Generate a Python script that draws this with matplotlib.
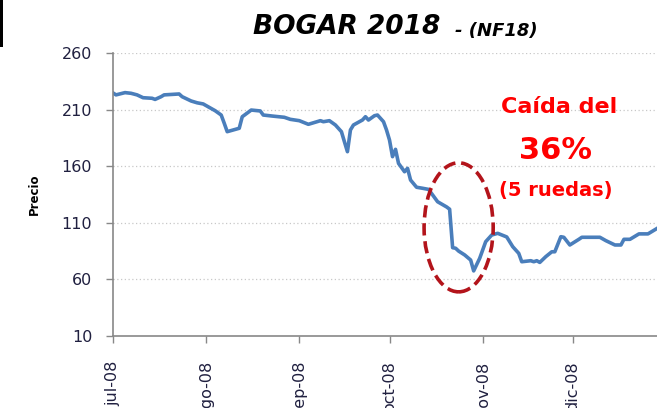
import matplotlib
matplotlib.use("Agg")
import matplotlib.pyplot as plt
import matplotlib.dates as mdates
from matplotlib.patches import Ellipse, Rectangle
import pandas as pd

# precio diario (aprox.) del bono
fechas = [
    "2008-07-01", "2008-07-02", "2008-07-05", "2008-07-07", "2008-07-09", "2008-07-11",
    "2008-07-14", "2008-07-15", "2008-07-17", "2008-07-18", "2008-07-23", "2008-07-24",
    "2008-07-27", "2008-07-29", "2008-07-31",
    "2008-08-02", "2008-08-04", "2008-08-06", "2008-08-07", "2008-08-08", "2008-08-10",
    "2008-08-12", "2008-08-13", "2008-08-16", "2008-08-19", "2008-08-20", "2008-08-23",
    "2008-08-27", "2008-08-29",
    "2008-09-01", "2008-09-04", "2008-09-08", "2008-09-09", "2008-09-11", "2008-09-13",
    "2008-09-15", "2008-09-16", "2008-09-17", "2008-09-18", "2008-09-19", "2008-09-22",
    "2008-09-23", "2008-09-24", "2008-09-26", "2008-09-27", "2008-09-29", "2008-09-30",
    "2008-10-01", "2008-10-02", "2008-10-03", "2008-10-04", "2008-10-06", "2008-10-07",
    "2008-10-08", "2008-10-10", "2008-10-12", "2008-10-14", "2008-10-17", "2008-10-20",
    "2008-10-21", "2008-10-22", "2008-10-23", "2008-10-24", "2008-10-26", "2008-10-28",
    "2008-10-29", "2008-10-31",
    "2008-11-02", "2008-11-04", "2008-11-06", "2008-11-09", "2008-11-11", "2008-11-13",
    "2008-11-14", "2008-11-17", "2008-11-18", "2008-11-19", "2008-11-20", "2008-11-22",
    "2008-11-24", "2008-11-25", "2008-11-27", "2008-11-28", "2008-11-30",
    "2008-12-03", "2008-12-04", "2008-12-10", "2008-12-12", "2008-12-15", "2008-12-17",
    "2008-12-18", "2008-12-20", "2008-12-23", "2008-12-26", "2008-12-29",
]
precios = [
    224.7, 223.0, 225.0, 224.4, 223.0, 220.5,
    220.0, 219.0, 221.4, 223.0, 223.8, 221.4,
    217.6, 216.0, 215.0,
    212.0, 209.0, 205.2, 198.0, 190.5, 192.0,
    193.5, 203.7, 209.6, 208.8, 205.2, 204.3,
    203.2, 201.4,
    200.2, 197.0, 200.2, 199.3, 200.2, 196.4,
    190.5, 181.6, 172.8, 192.0, 196.4, 200.8,
    203.7, 200.8, 204.6, 205.2, 199.3, 192.0,
    183.1, 168.4, 174.9, 162.5, 155.1, 158.1,
    147.8, 141.4, 140.5, 139.5, 128.6, 124.0,
    122.0, 88.0, 87.5, 85.0, 81.6, 77.1,
    67.5, 78.6,
    93.3, 99.2, 100.7, 97.5, 88.9, 83.0,
    75.6, 76.5, 75.6, 76.5, 75.0, 80.1,
    84.4, 84.4, 97.7, 97.2, 90.4,
    95.4, 97.2, 97.2, 94.2, 90.4, 90.4,
    95.4, 95.4, 100.2, 100.2, 105.0,
]

meses = ["2008-07-01", "2008-08-01", "2008-09-01", "2008-10-01", "2008-11-01", "2008-12-01"]
etiquetas_meses = ["jul-08", "ago-08", "sep-08", "oct-08", "nov-08", "dic-08"]
yticks = [10, 60, 110, 160, 210, 260]

fechas = pd.to_datetime(fechas)
meses = pd.to_datetime(meses)

fig = plt.figure(figsize=(6.57, 4.08), dpi=100)
ax = fig.add_axes([0.172, 0.1765, 0.828, 0.6936])

ax.plot(fechas, precios, color="#4a7ebb", lw=2.6, solid_joinstyle="round")

ax.set_ylim(10, 260)
ax.set_xlim(pd.Timestamp("2008-07-01"), pd.Timestamp("2008-12-29"))
ax.set_yticks(yticks)
ax.set_xticks(meses)
ax.set_xticklabels(etiquetas_meses, rotation=90, va="top", ha="center")

for v in yticks[1:]:
    ax.axhline(v, color="#c8c8c8", lw=0.9, ls=(0, (1, 2)), zorder=0)

for s in ["top", "right"]:
    ax.spines[s].set_visible(False)
for s in ["left", "bottom"]:
    ax.spines[s].set_color("#888888")
    ax.spines[s].set_linewidth(1.2)
ax.tick_params(axis="both", direction="out", length=5, width=1, color="#888888",
               labelsize=11.5, labelcolor="#202040")
ax.tick_params(axis="y", pad=10)
ax.tick_params(axis="x", pad=13)

fig.text(0.053, 0.523, "Precio", rotation=90, fontsize=8.5, fontweight="bold",
         ha="center", va="center")

# titulo
fig.text(0.670, 0.933, "BOGAR 2018", fontsize=19, fontweight="bold", style="italic",
         ha="right", va="center")
fig.text(0.692, 0.925, "- (NF18)", fontsize=13, fontweight="bold", style="italic",
         ha="left", va="center")

# recuadro negro en la esquina
fig.patches.append(Rectangle((0, 0.885), 0.005, 0.115, transform=fig.transFigure,
                             facecolor="black", edgecolor="none"))

# anotacion de la caida
fig.text(0.851, 0.737, "Caída del", fontsize=16, fontweight="bold", color="#ff0000",
         ha="center", va="center")
fig.text(0.845, 0.632, "36%", fontsize=22, fontweight="bold", color="#ff0000",
         ha="center", va="center")
fig.text(0.846, 0.532, "(5 ruedas)", fontsize=14, fontweight="bold", color="#ff0000",
         ha="center", va="center")

centro = mdates.date2num(pd.Timestamp("2008-10-24"))
ax.add_patch(Ellipse((centro, 106), width=23, height=114, fill=False,
                     edgecolor="#b3141b", lw=2.6, ls=(0, (3.4, 1.6)), zorder=3))

fig.savefig("out.png", dpi=100)
